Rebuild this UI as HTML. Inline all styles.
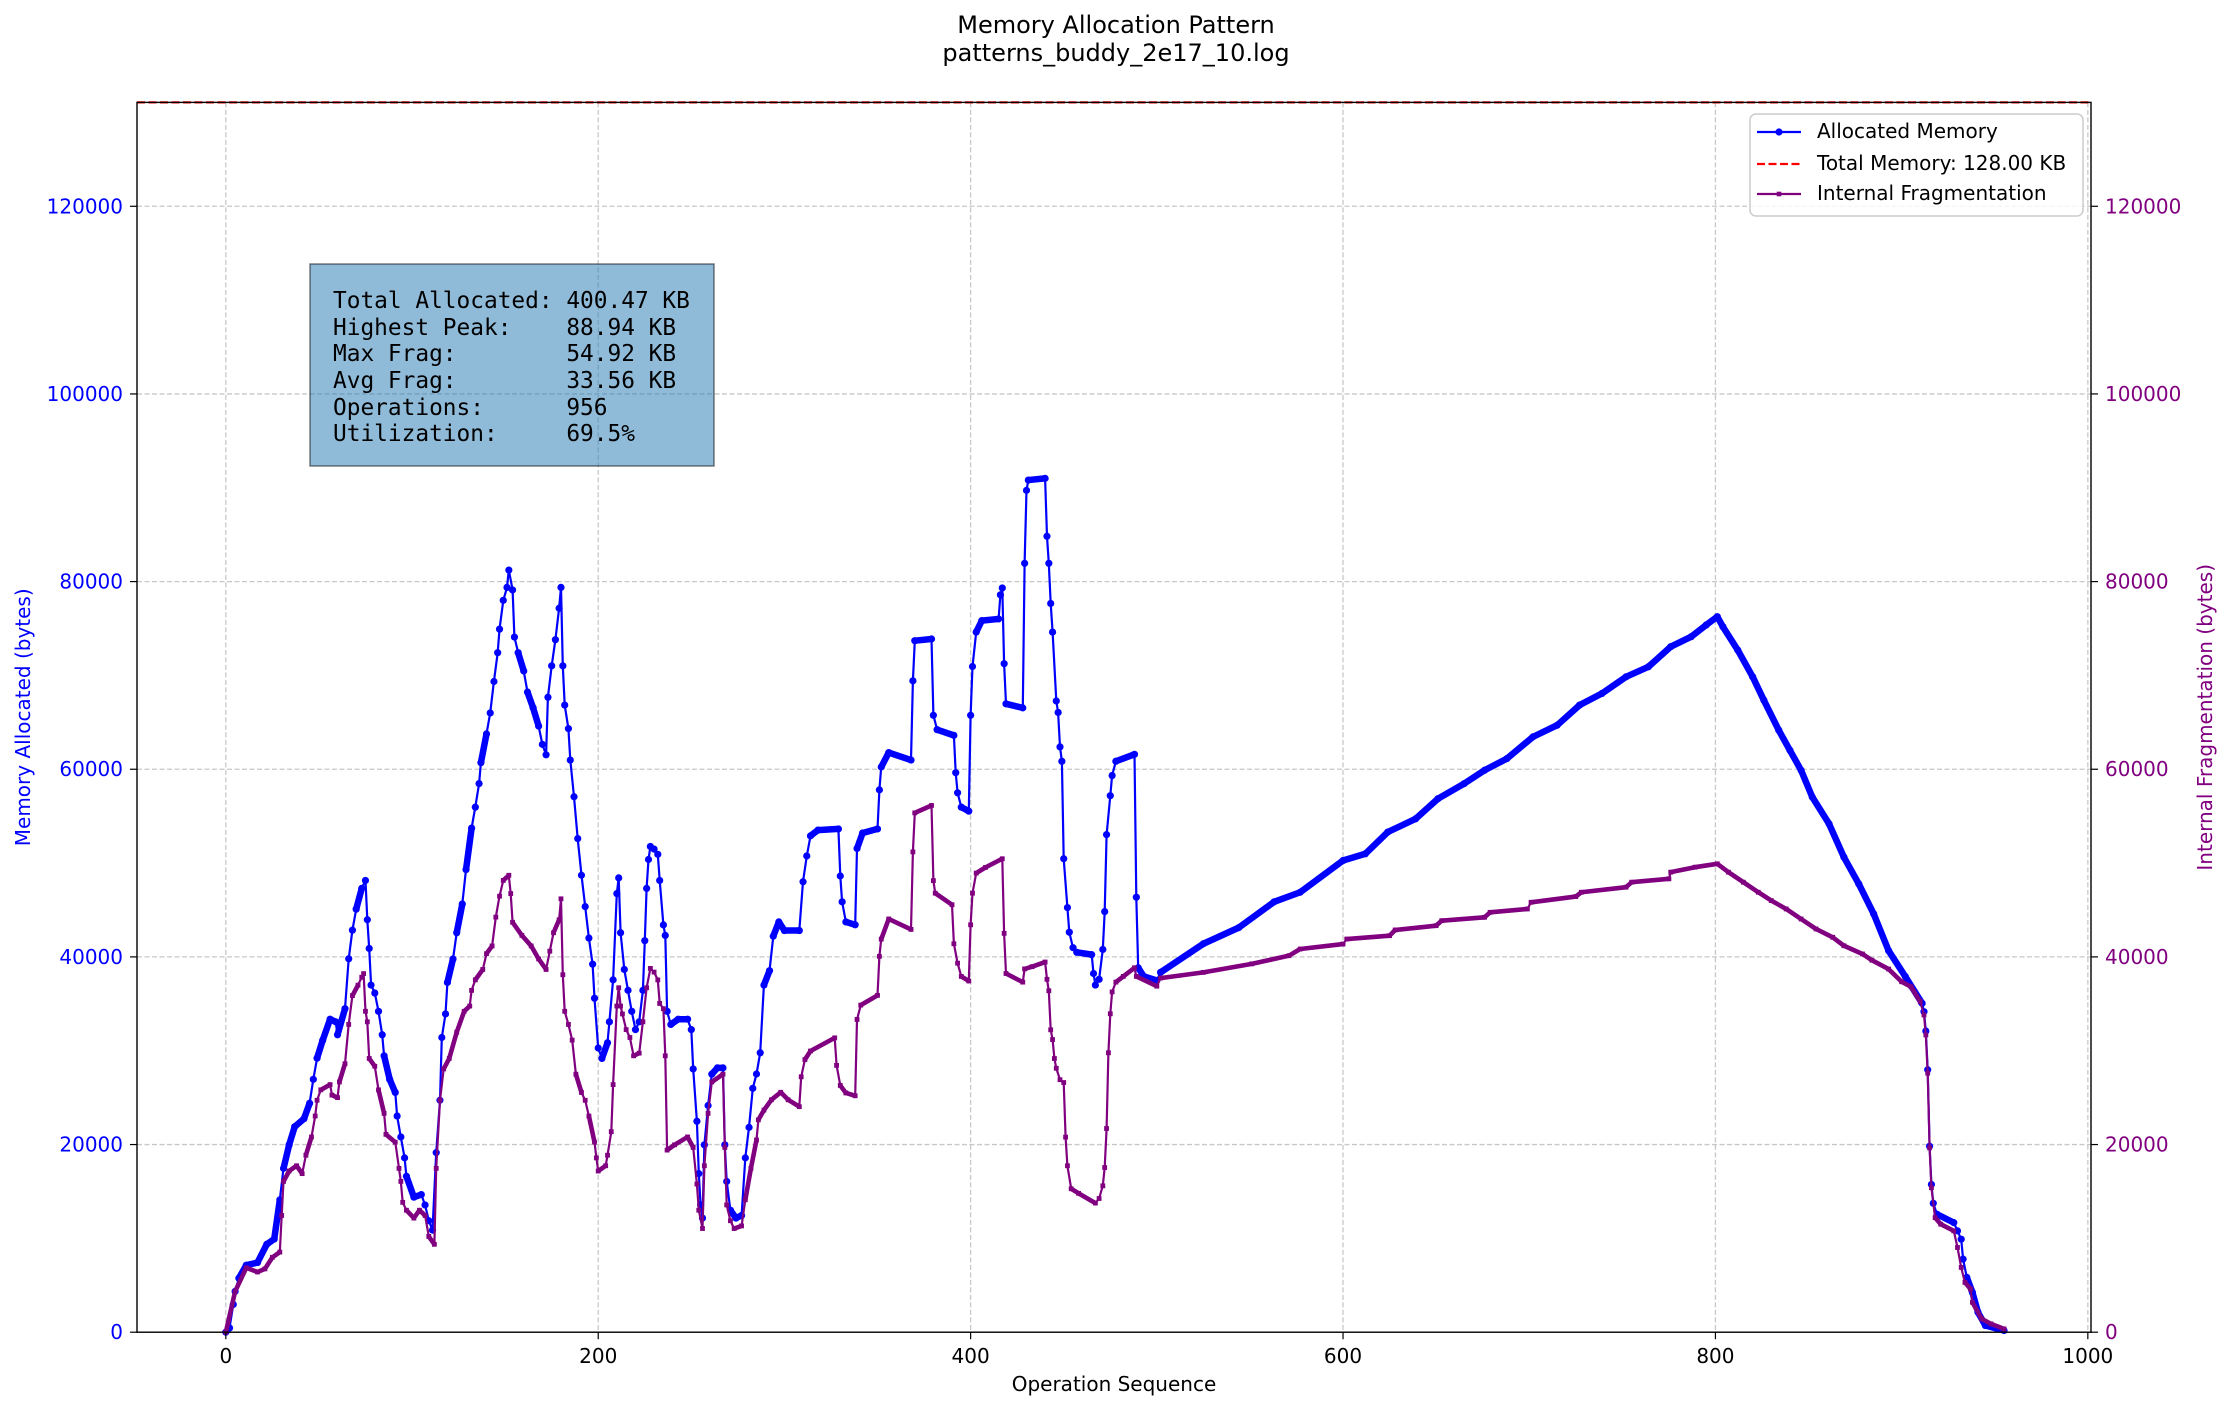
<!DOCTYPE html>
<html><head><meta charset="utf-8"><title>Memory Allocation Pattern</title>
<style>
html,body{margin:0;padding:0;background:#fff;}
svg{display:block;font-family:"DejaVu Sans","Liberation Sans",sans-serif;}
</style></head>
<body>
<svg id="chart" width="2232" height="1410" viewBox="0 0 2232 1410" xmlns="http://www.w3.org/2000/svg">
<rect x="0" y="0" width="2232" height="1410" fill="#fff"/>
<text x="1116" y="33" text-anchor="middle" font-size="24" fill="#000">Memory Allocation Pattern</text>
<text x="1116" y="61" text-anchor="middle" font-size="24" fill="#000">patterns_buddy_2e17_10.log</text>
<g id="grid"></g>
<g id="series"></g>
<g id="axes"></g>
<g>
<rect x="310" y="264" width="404" height="202" fill="#1f77b4" fill-opacity="0.5" stroke="#000" stroke-opacity="0.5" stroke-width="1.5"/>
<text font-family="'DejaVu Sans Mono','Liberation Mono',monospace" font-size="22.8" fill="#000" xml:space="preserve">
<tspan x="333" y="308">Total Allocated: 400.47 KB</tspan>
<tspan x="333" y="335">Highest Peak:    88.94 KB</tspan>
<tspan x="333" y="361">Max Frag:        54.92 KB</tspan>
<tspan x="333" y="388">Avg Frag:        33.56 KB</tspan>
<tspan x="333" y="415">Operations:      956</tspan>
<tspan x="333" y="441">Utilization:     69.5%</tspan>
</text>
</g>
<g>
<rect x="1750" y="114" width="333" height="102" rx="6" fill="#fff" fill-opacity="0.8" stroke="#cccccc" stroke-width="1.5"/>
<g>
<line x1="1757" y1="132" x2="1801" y2="132" stroke="#0000ff" stroke-width="2.2"/>
<circle cx="1779" cy="132" r="3.6" fill="#0000ff"/>
<text x="1817" y="138" font-size="20" fill="#000">Allocated Memory</text>
</g>
<g>
<line x1="1757" y1="164" x2="1801" y2="164" stroke="#ff0000" stroke-width="2.2" stroke-dasharray="8,3.5"/>
<text x="1817" y="170" font-size="20" fill="#000">Total Memory: 128.00 KB</text>
</g>
<g>
<line x1="1757" y1="194" x2="1801" y2="194" stroke="#800080" stroke-width="2.2"/>
<rect x="1776.7" y="191.7" width="4.6" height="4.6" fill="#800080"/>
<text x="1817" y="200" font-size="20" fill="#000">Internal Fragmentation</text>
</g>
</g>
</svg>
<script>
const allocIdx = [0,2,4,5,7,11,17,22,26,29,31,34,37,42,45,47,49,52,56,59,60,64,66,68,70,73,75,76,77,78,80,82,84,85,88,91,92,94,96,97,101,105,107,109,111,113,115,116,118,119,122,124,127,129,132,134,136,137,140,142,144,146,147,149,151,152,154,155,157,160,162,165,168,170,172,173,175,177,179,180,181,182,184,185,187,189,191,193,195,197,198,200,202,205,206,208,210,211,212,214,216,218,220,222,224,225,226,227,228,230,232,233,235,236,237,239,243,248,250,251,253,254,255,256,257,259,261,264,267,268,269,271,274,277,279,281,283,285,287,289,292,294,297,300,308,310,312,314,318,329,330,331,333,338,339,342,350,351,352,356,368,369,370,379,380,382,391,392,393,395,399,400,401,403,406,415,416,417,418,419,428,429,430,431,440,441,442,443,444,446,447,448,449,450,452,453,455,457,465,466,467,469,471,472,473,475,476,478,488,489,490,493,500,502,525,544,563,577,600,612,624,639,651,665,676,688,702,715,727,739,752,764,776,787,795,801,804,812,820,826,834,840,846,852,861,869,877,885,893,902,911,912,913,914,915,916,917,919,928,930,932,933,935,938,941,945,955];
const allocVal = [0,450,2960,4350,5750,7140,7420,9370,9930,14100,17460,19970,21900,22760,24400,26950,29200,31100,33360,33080,31700,34480,39800,42850,45080,47300,48150,43960,40900,37000,36150,34200,31700,29460,26950,25550,23040,20810,18580,16620,14390,14670,13560,11880,10880,19140,24720,31410,33920,37270,39780,42570,45640,49300,53730,55960,58470,60700,63770,66000,69350,72420,74930,78000,79380,81230,79110,74090,72420,70470,68230,66560,64600,62650,61540,67670,71020,73810,77160,79380,71020,66840,64330,60980,57070,52610,48700,45360,42010,39220,35590,30290,29180,30850,33080,37550,46750,48420,42570,38660,36430,34200,32250,33080,36430,41730,47300,50380,51770,51490,50930,48150,43410,42290,34200,32800,33360,33360,32250,28060,22480,16900,13560,12160,19970,24160,27500,28170,28170,19970,16070,13000,12160,12440,18580,21830,25990,27520,29780,37000,38530,42200,43730,42810,42810,48010,50760,52900,53510,53640,48620,45870,43730,43420,51560,53210,53640,57800,60240,61770,60980,69420,73700,73880,65750,64220,63610,59630,57490,55960,55530,65750,70950,74620,75840,76020,78590,79320,71250,66970,66540,81950,89720,90820,91000,84830,81950,77670,74620,67280,66050,62380,60850,50460,45260,42630,40980,40490,40240,38230,37000,37610,40790,44830,53030,57180,59330,60850,61590,46360,38840,37920,37490,38350,41400,43120,45870,46890,50270,50990,53300,54720,56860,58460,59890,61130,63450,64690,66830,68070,69850,70920,73060,74130,75370,76260,75190,72700,69850,67360,64160,62020,59890,57040,54190,50630,47780,44580,40660,37900,35050,34160,32100,27970,19820,15750,13740,12570,11680,10800,9910,7790,5840,4250,2120,710,180];
const fragIdx = [0,5,11,17,21,25,29,30,31,34,38,41,43,46,48,49,51,56,57,60,61,64,66,68,71,73,74,75,76,77,80,82,85,86,91,93,94,95,97,101,104,107,109,112,113,115,117,120,124,128,131,132,134,138,140,143,145,147,149,152,153,154,159,164,168,172,174,176,179,180,181,182,184,186,188,191,193,195,198,199,200,204,205,207,208,210,211,212,213,215,217,219,222,224,226,228,230,232,233,235,236,237,241,248,251,253,254,256,257,259,261,267,268,269,271,273,277,279,282,285,286,289,293,298,302,308,309,311,314,327,328,330,333,338,339,341,350,351,352,356,368,369,370,379,380,381,390,391,393,395,399,400,401,403,408,417,418,419,428,429,433,440,441,442,443,444,445,446,448,450,451,452,454,458,467,469,471,472,473,474,475,476,478,482,488,489,500,502,525,551,571,577,600,602,625,628,650,653,676,679,699,701,725,728,752,755,775,776,789,801,807,815,823,830,838,846,854,863,869,879,884,893,900,905,910,912,913,914,915,916,918,921,928,930,932,934,937,938,943,948,955];
const fragVal = [0,4350,6860,6420,6750,7980,8540,12440,16070,17180,17740,16900,18860,20810,23040,24720,25830,26390,25270,25000,26670,28620,32800,35870,36990,37830,38220,34200,33080,29180,28340,25830,23320,21090,20250,17460,16070,13840,13000,12160,13000,12440,10210,9370,17460,24720,28060,29180,31970,34200,34760,36430,37550,38660,40340,41170,44240,46470,48150,48700,46750,43690,42290,41170,39780,38660,40610,42570,43960,46190,38100,34200,32800,31130,27500,25550,24720,23040,20250,18580,17180,17740,18860,21370,26390,34760,36710,34760,33920,32250,31410,29460,29740,33080,36710,38770,38380,37550,35040,34480,29460,19410,19970,20810,19690,15790,13000,11050,17740,23320,26670,27500,19690,13560,11880,11050,11330,14110,17460,20490,22630,23670,24770,25570,24770,24040,27220,29050,29970,31370,28440,26300,25500,25200,33330,34860,35900,40060,41890,44040,42930,51190,55350,56140,48130,46790,45560,41400,39330,37920,37430,43420,46790,48930,49540,50460,42510,38230,37310,38720,38960,39450,37610,36390,32230,31190,29170,28130,26910,26610,20790,17740,15290,14800,13760,14250,15600,17550,21710,29780,33940,36270,37310,37920,38840,37920,36880,37740,38350,39260,40130,40840,41370,41900,42260,42870,43330,43860,44220,44750,45110,45820,46430,46890,47430,47960,48320,49030,49560,49920,49030,47960,46890,46000,45110,44040,42980,42090,41190,40310,39650,38700,37350,36820,35220,33810,31680,27610,19650,15400,12210,11510,10800,9030,6900,5310,4600,3190,1420,885,354];
const xTicks = [0,200,400,600,800,1000];
const yTicks = [0,20000,40000,60000,80000,100000,120000];
const totalMemory = 131072;

const NS = 'http://www.w3.org/2000/svg';
const L = 137, R = 2091, T = 102.4, B = 1332.2;
const xMin = -47.7, xMax = 1001.7, yMax = 131072;
function X(i){ return L + (i - xMin) / (xMax - xMin) * (R - L); }
function Y(v){ return B - v / yMax * (B - T); }
function mk(tag, attrs, parent){
  const e = document.createElementNS(NS, tag);
  for (const k in attrs) e.setAttribute(k, attrs[k]);
  parent.appendChild(e);
  return e;
}
const grid = document.getElementById('grid');
const axes = document.getElementById('axes');
const series = document.getElementById('series');

xTicks.forEach(t => {
  const g = mk('line', {x1:X(t), x2:X(t), y1:T, y2:B, stroke:'#b0b0b0', 'stroke-opacity':'0.7', 'stroke-width':'1.3', 'stroke-dasharray':'5,2.5'}, grid);
  
  
  const tk = mk('line', {x1:X(t), x2:X(t), y1:B, y2:B+7, stroke:'#000', 'stroke-width':'1.2'}, axes);
  
  
  const lb = mk('text', {x:X(t), y:B+31, 'text-anchor':'middle', 'font-size':'20', fill:'#000'}, axes);
  lb.textContent = t;
  
  
});
yTicks.forEach(t => {
  const g = mk('line', {x1:L, x2:R, y1:Y(t), y2:Y(t), stroke:'#b0b0b0', 'stroke-opacity':'0.7', 'stroke-width':'1.3', 'stroke-dasharray':'5,2.5'}, grid);
  
  
  const tl = mk('line', {x1:L-7, x2:L, y1:Y(t), y2:Y(t), stroke:'#000', 'stroke-width':'1.2'}, axes);
  
  
  const ll = mk('text', {x:L-14, y:Y(t)+7, 'text-anchor':'end', 'font-size':'20', fill:'#0000ff'}, axes);
  ll.textContent = t;
  
  
  const tr = mk('line', {x1:R, x2:R+7, y1:Y(t), y2:Y(t), stroke:'#000', 'stroke-width':'1.2'}, axes);
  
  
  const lr = mk('text', {x:R+14, y:Y(t)+7, 'text-anchor':'start', 'font-size':'20', fill:'#800080'}, axes);
  lr.textContent = t;
  
  
});

function drawSeries(idx, val, color, band, marker, name){
  const g = mk('g', {}, series);
  
  
  for (let k = 1; k < idx.length; k++){
    if (idx[k] - idx[k-1] >= 3){
      mk('line', {x1:X(idx[k-1]), y1:Y(val[k-1]), x2:X(idx[k]), y2:Y(val[k]), stroke:color, 'stroke-width':band, 'stroke-linecap':'round'}, g);
    }
  }
  const pts = idx.map((i,k) => X(i).toFixed(1) + ',' + Y(val[k]).toFixed(1)).join(' ');
  const pl = mk('polyline', {points:pts, fill:'none', stroke:color, 'stroke-width':'2.2', 'stroke-linejoin':'round'}, g);
  
  
  idx.forEach((i,k) => {
    let m;
    if (marker === 'circle') m = mk('circle', {cx:X(i), cy:Y(val[k]), r:3.6, fill:color}, g);
    else m = mk('rect', {x:X(i)-2.4, y:Y(val[k])-2.4, width:4.8, height:4.8, fill:color}, g);
    
    
  });
}
drawSeries(allocIdx, allocVal, '#0000ff', 6.5, 'circle', 'allocated-memory-series');
drawSeries(fragIdx, fragVal, '#800080', 4.6, 'square', 'internal-fragmentation-series');

const tm = mk('line', {x1:L, x2:R, y1:Y(totalMemory), y2:Y(totalMemory), stroke:'#ff0000', 'stroke-width':'2.2', 'stroke-dasharray':'8,3.5'}, series);



const frame = mk('rect', {x:L, y:T, width:R-L, height:B-T, fill:'none', stroke:'#000', 'stroke-width':'1.4'}, axes);



const xl = mk('text', {x:(L+R)/2, y:1391, 'text-anchor':'middle', 'font-size':'20', fill:'#000'}, axes);
xl.textContent = 'Operation Sequence';


const yl = mk('text', {x:0, y:0, 'text-anchor':'middle', 'font-size':'20', fill:'#0000ff', transform:'translate(30,'+((T+B)/2)+') rotate(-90)'}, axes);
yl.textContent = 'Memory Allocated (bytes)';


const yr = mk('text', {x:0, y:0, 'text-anchor':'middle', 'font-size':'20', fill:'#800080', transform:'translate(2212,'+((T+B)/2)+') rotate(-90)'}, axes);
yr.textContent = 'Internal Fragmentation (bytes)';


</script>
</body></html>
